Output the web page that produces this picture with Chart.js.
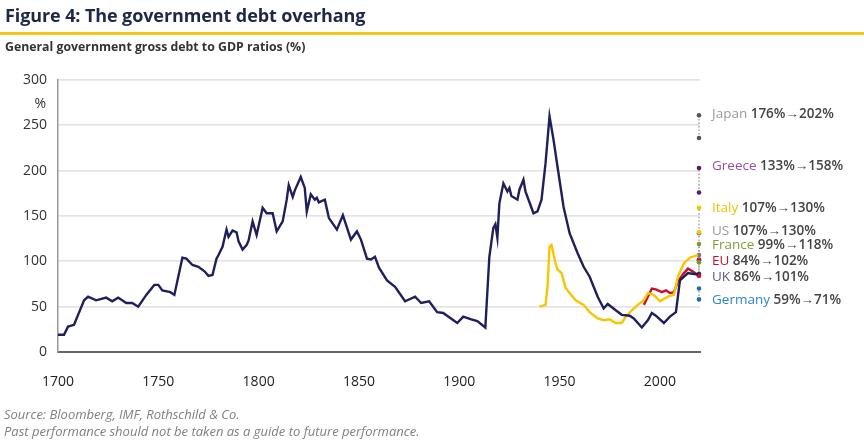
<!DOCTYPE html>
<html>
<head>
<meta charset="utf-8">
<script src="https://cdn.jsdelivr.net/npm/chart.js@4/dist/chart.umd.min.js"></script>
<style>
  body { margin: 0; background: #fff; width: 864px; height: 445px; overflow: hidden; position: relative; font-family: "Open Sans", sans-serif; }
  #titre { position: absolute; left: 5px; top: 3px; font-size: 18px; font-weight: bold; color: #1c2846; letter-spacing: -0.1px; }
  #regle { position: absolute; left: 0; top: 32px; width: 864px; height: 3px; background: #f5c518; }
  #soustitre { position: absolute; left: 5px; top: 38px; font-size: 12.3px; font-weight: bold; color: #333; }
  .pied { position: absolute; left: 4px; font-size: 13px; font-style: italic; color: #808080; }
  #zone { position: absolute; left: 0; top: 0; width: 864px; height: 445px; }
</style>
</head>
<body>
<div id="zone"><canvas id="GraphiqueDette"></canvas></div>
<div id="titre">Figure 4: The government debt overhang</div>
<div id="regle"></div>
<div id="soustitre">General government gross debt to GDP ratios (%)</div>
<div class="pied" style="top:405px">Source: Bloomberg, IMF, Rothschild &amp; Co.</div>
<div class="pied" style="top:422px">Past performance should not be taken as a guide to future performance.</div>
<script>
// UK (ligne bleu marine)
var ukAnnees = [1700, 1703, 1705, 1708, 1710, 1713, 1715, 1719, 1724, 1727, 1730, 1734, 1737, 1740, 1744, 1748, 1750, 1752, 1756, 1758,
    1762, 1764, 1767, 1770, 1773, 1775, 1777, 1779, 1780, 1782, 1784, 1785, 1787, 1789, 1790, 1792, 1794, 1795, 1797, 1799,
    1802, 1804, 1807, 1809, 1812, 1814, 1815, 1817, 1818, 1821, 1823, 1824, 1826, 1828, 1829, 1830, 1833, 1835, 1839, 1842,
    1846, 1849, 1851, 1854, 1856, 1858, 1860, 1864, 1868, 1873, 1878, 1881, 1885, 1889, 1892, 1899, 1902, 1906, 1909, 1913,
    1915, 1917, 1918, 1919, 1920, 1922, 1924, 1925, 1926, 1929, 1930, 1932, 1933, 1937, 1939, 1941, 1943, 1945, 1947, 1949,
    1952, 1955, 1959, 1962, 1965, 1969, 1972, 1974, 1978, 1981, 1985, 1987, 1991, 1994, 1996, 1998, 2002, 2005, 2008, 2010,
    2014, 2017, 2019];
var ukDette = [19, 19, 28, 30, 41, 57, 61, 57, 60, 56, 60, 54, 54, 50, 63, 74, 74, 68, 66, 63,
    104, 103, 96, 94, 89, 84, 85, 103, 107, 116, 135, 127, 134, 132, 122, 113, 118, 123, 144, 129,
    159, 153, 153, 133, 144, 168, 184, 171, 178, 193, 181, 155, 174, 168, 170, 165, 168, 148, 135, 151,
    124, 133, 124, 103, 102, 105, 93, 79, 72, 56, 61, 54, 56, 44, 43, 32, 39, 36, 34, 27,
    105, 137, 141, 126, 164, 186, 177, 181, 172, 168, 179, 190, 177, 153, 155, 168, 208, 260, 234, 204,
    160, 131, 109, 94, 83, 61, 48, 53, 46, 41, 40, 37, 27, 35, 43, 40, 32, 39, 44, 79,
    87, 86, 86];

// US (ligne jaune)
var usAnnees = [1940, 1943, 1944, 1945, 1946, 1948, 1949, 1951, 1953, 1955, 1958, 1962, 1965, 1969, 1972, 1975, 1978, 1981,
    1983, 1986, 1989, 1992, 1994, 1997, 2000, 2004, 2007, 2009, 2012, 2015, 2019];
var usDette = [50, 52, 72, 116, 118, 98, 91, 87, 71, 65, 57, 52, 44, 37, 35, 36, 32, 32,
    39, 46, 52, 57, 65, 63, 56, 61, 63, 83, 98, 104, 107];

// EU (ligne rouge)
var ueAnnees = [1992, 1994, 1996, 1998, 2001, 2003, 2005, 2007, 2009, 2012, 2014, 2017, 2019];
var ueDette = [52, 61, 70, 69, 66, 68, 65, 66, 78, 87, 92, 88, 84];

// points de fin : 2019 -> projection
var pays = ["Japan", "Greece", "Italy", "US", "France", "EU", "UK", "Germany"];
var detteAvant = [236, 176, 132, 107, 99, 84, 86, 58];
var detteApres = [261, 203, 159, 131, 119, 102, 101, 70];
var textes = ["176%\u2192202%", "133%\u2192158%", "107%\u2192130%", "107%\u2192130%", "99%\u2192118%", "84%\u2192102%", "86%\u2192101%", "59%\u219271%"];

var anneesAxe = [1700, 1750, 1800, 1850, 1900, 1950, 2000];

var couleursPoints = ["#555555", "#5e1a5e", "#f5c400", "#777777", "#7a9a2a", "#c8102e", "#1f1f5c", "#1f6fb0"];
var couleursNoms = ["#9a9a9a", "#9b4f9b", "#f2c200", "#9a9a9a", "#7f9f3a", "#c8102e", "#5a5a8a", "#2f86c4"];
var positionsEtiquettes = [262, 205, 159, 133, 118, 100, 83, 57];

function Points(annees, valeurs) {
    var pts = [];
    var i = 0;
    while (i < annees.length) {
        pts.push({ x: annees[i], y: valeurs[i] });
        i++;
    }
    return pts;
}

var jeux = [
    { data: Points(ukAnnees, ukDette), borderColor: "#1f1f5c", borderWidth: 2.4 },
    { data: Points(usAnnees, usDette), borderColor: "#f7c600", borderWidth: 2.4 },
    { data: Points(ueAnnees, ueDette), borderColor: "#c8102e", borderWidth: 2.4 }
];
pays.forEach(function (p, i) {
    jeux.push({
        data: [{ x: 2019.5, y: detteAvant[i] }, { x: 2019.5, y: detteApres[i] }],
        borderColor: "#8a8a8a",
        borderWidth: 1.2,
        borderDash: [1.5, 2],
        pointRadius: 2.3,
        pointBackgroundColor: couleursPoints[i],
        pointBorderWidth: 0,
        clip: false
    });
});

var etiquettes = {
    id: "etiquettes",
    afterDraw: function (chart) {
        var ctx = chart.ctx;
        var y = chart.scales.y;
        ctx.save();
        ctx.font = "14px 'Open Sans', sans-serif";
        ctx.fillStyle = "#333";
        ctx.textAlign = "right";
        ctx.textBaseline = "middle";
        ctx.fillText("%", 46, y.getPixelForValue(300) + 24);
        ctx.textAlign = "left";
        pays.forEach(function (p, i) {
            var py = y.getPixelForValue(positionsEtiquettes[i]);
            ctx.font = "13.5px 'Open Sans', sans-serif";
            ctx.fillStyle = couleursNoms[i];
            ctx.fillText(p, 712, py);
            var w = ctx.measureText(p + " ").width;
            ctx.font = "600 13.5px 'Open Sans', sans-serif";
            ctx.fillStyle = "#444";
            ctx.fillText(textes[i], 712 + w, py);
        });
        ctx.restore();
    }
};

var ctx = document.getElementById("GraphiqueDette").getContext("2d");
var graphique = new Chart(ctx, {
    type: "line",
    data: { datasets: jeux },
    options: {
        responsive: true,
        maintainAspectRatio: false,
        animation: false,
        layout: { padding: { top: 80, right: 164, left: 0, bottom: 0 } },
        elements: { line: { tension: 0 }, point: { radius: 0 } },
        plugins: { legend: { display: false }, tooltip: { enabled: false } },
        scales: {
            x: {
                type: "linear",
                min: 1700,
                max: 2020,
                afterBuildTicks: function (s) {
                    s.ticks = anneesAxe.map(function (v) { return { value: v }; });
                },
                afterFit: function (s) { s.height = 93; },
                ticks: {
                    color: "#222",
                    font: { size: 14, family: "'Open Sans', sans-serif" },
                    padding: 14,
                    maxRotation: 0,
                    autoSkip: false,
                    callback: function (v) { return String(v); }
                },
                grid: { display: false },
                border: { display: true, color: "#666", width: 2 }
            },
            y: {
                min: 0,
                max: 300,
                afterFit: function (s) { s.width = 58; },
                ticks: { stepSize: 50, color: "#333", font: { size: 14, family: "'Open Sans', sans-serif" }, padding: 11 },
                grid: { color: "#e4e4e4", lineWidth: 1.8, drawTicks: false },
                border: { display: true, color: "#999", width: 1.5 }
            }
        }
    },
    plugins: [etiquettes]
});
</script>
</body>
</html>
